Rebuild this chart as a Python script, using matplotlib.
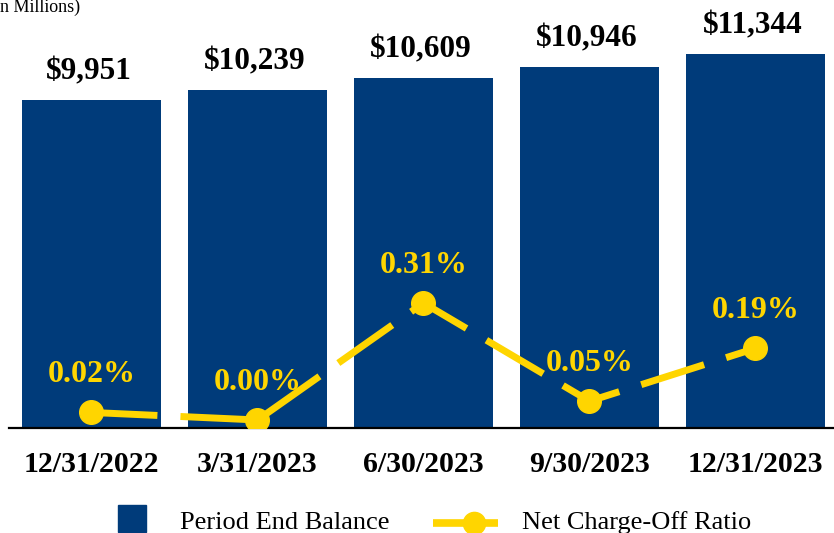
import matplotlib
matplotlib.use("Agg")
import matplotlib.pyplot as plt
from matplotlib.patches import Rectangle
from matplotlib.lines import Line2D

plt.rcParams["font.family"] = ["Liberation Serif", "DejaVu Serif"]
plt.rcParams["lines.scale_dashes"] = False

# Data
periods = ["12/31/2022", "3/31/2023", "6/30/2023", "9/30/2023", "12/31/2023"]
balance = [9951, 10239, 10609, 10946, 11344]          # $ millions
nco_ratio = [0.02, 0.00, 0.31, 0.05, 0.19]            # percent

NAVY = "#003B7A"
GOLD = "#FFD500"

fig = plt.figure(figsize=(8.34, 5.33), dpi=100)
ax = fig.add_axes([8.5 / 834, 105 / 533, 825.5 / 834, 428 / 533])
x = list(range(len(periods)))

ax.bar(x, balance, width=0.837, color=NAVY, zorder=2)
ax.set_xlim(-0.5, 4.473)
ax.set_ylim(0, 12970)
ax.set_yticks([])
ax.set_xticks(x)
ax.set_xticklabels(periods, fontsize=21.5, fontweight="bold")
ax.tick_params(axis="x", length=0, pad=16.5)
for side in ("top", "left", "right"):
    ax.spines[side].set_visible(False)
ax.spines["bottom"].set_linewidth(1.6)
ax.spines["bottom"].set_color("black")
ax.spines["bottom"].set_zorder(5)

for xi, v in zip(x, balance):
    ax.annotate(f"${v:,}", (xi, v), xytext=(-2, 14.8), textcoords="offset points",
                ha="center", va="baseline", fontsize=22.5, fontweight="bold",
                color="black")

# Net charge-off ratio on a secondary scale
ax2 = ax.twinx()
ax2.set_ylim(-0.0212, 1.113)
ax2.set_yticks([])
for side in ("top", "left", "right", "bottom"):
    ax2.spines[side].set_visible(False)

dash_offsets = [0, 57, 11.5, 25]
for i in range(len(x) - 1):
    ax2.plot(x[i:i + 2], nco_ratio[i:i + 2], color=GOLD, lw=5,
             linestyle=(dash_offsets[i], (47.5, 16.6)), solid_capstyle="butt",
             dash_capstyle="butt", zorder=3)
ax2.plot(x, nco_ratio, linestyle="none", marker="o", markersize=17,
         color=GOLD, zorder=4)

for xi, v in zip(x, nco_ratio):
    ax2.annotate(f"{v:.2f}%", (xi, v), xytext=(0, 21.6), textcoords="offset points",
                 ha="center", va="baseline", fontsize=23, fontweight="bold",
                 color=GOLD)

# Units note
fig.text(-12 / 834, (533 - 11.5) / 533, "(In Millions)", fontsize=13,
         ha="left", va="baseline", color="black")

# Legend
fig.patches.append(Rectangle((118 / 834, 1 / 533), 28 / 834, 27 / 533,
                             transform=fig.transFigure, color=NAVY))
fig.text(180 / 834, 4 / 533, "Period End Balance", fontsize=19,
         ha="left", va="baseline")
fig.lines.append(Line2D([433 / 834, 498 / 834], [10.5 / 533, 10.5 / 533],
                        transform=fig.transFigure, color=GOLD, lw=5.5,
                        solid_capstyle="butt"))
fig.lines.append(Line2D([474 / 834], [10.5 / 533], transform=fig.transFigure,
                        color=GOLD, marker="o", markersize=16, linestyle="none"))
fig.text(522 / 834, 4 / 533, "Net Charge-Off Ratio", fontsize=19,
         ha="left", va="baseline")

fig.savefig("out.png", dpi=100)
